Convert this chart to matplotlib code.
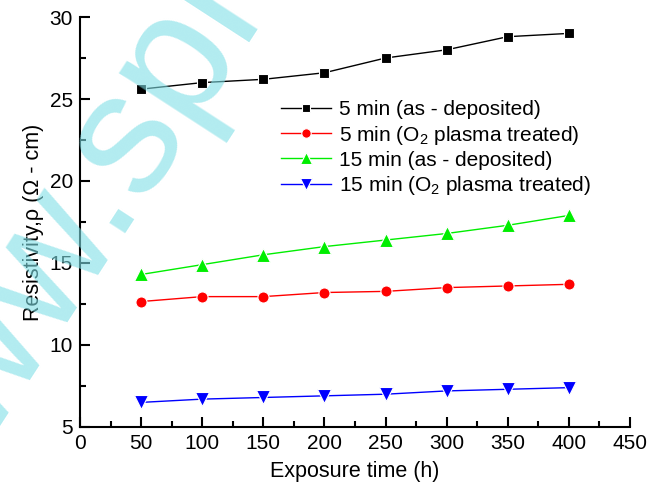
import matplotlib
matplotlib.use("Agg")
import matplotlib.pyplot as plt
from matplotlib.ticker import MultipleLocator

plt.rcParams['font.family'] = ['Liberation Sans', 'DejaVu Sans']
plt.rcParams['mathtext.fontset'] = 'custom'
plt.rcParams['mathtext.rm'] = 'Liberation Sans'
plt.rcParams['mathtext.it'] = 'Liberation Sans'

exposure = [50, 100, 150, 200, 250, 300, 350, 400]
s5_dep = [25.6, 26.0, 26.2, 26.6, 27.5, 28.0, 28.8, 29.0]
s5_o2 = [12.65, 12.95, 12.95, 13.2, 13.27, 13.5, 13.6, 13.7]
s15_dep = [14.3, 14.9, 15.5, 16.0, 16.4, 16.8, 17.3, 17.9]
s15_o2 = [6.5, 6.7, 6.8, 6.9, 7.0, 7.2, 7.3, 7.4]
labels = ["5 min (as - deposited)", "5 min (O$_2$ plasma treated)",
          "15 min (as - deposited)", "15 min (O$_2$ plasma treated)"]

fig = plt.figure(figsize=(6.49, 4.88), dpi=100)
ax = fig.add_axes([80/649, 1-427/488, 550/649, 410/488])

# watermark
fig.text(0.09, 0.48, "www.spr", color='#7fdfe6', alpha=0.6, fontsize=125,
         rotation=57, ha='center', va='center', zorder=0)

common = dict(lw=1, mec='white', mew=0.8)
ax.plot(exposure, s5_dep, color='black', marker='s', ms=7.5, label=labels[0], **common)
ax.plot(exposure, s5_o2, color='red', marker='o', ms=8, label=labels[1], **common)
ax.plot(exposure, s15_dep, color='#00ee00', marker='^', ms=10, label=labels[2], **common)
ax.plot(exposure, s15_o2, color='blue', marker='v', ms=10, label=labels[3], **common)

ax.set_xlim(0, 450)
ax.set_ylim(5, 30)
ax.xaxis.set_major_locator(MultipleLocator(50))
ax.xaxis.set_minor_locator(MultipleLocator(25))
ax.yaxis.set_major_locator(MultipleLocator(5))
ax.yaxis.set_minor_locator(MultipleLocator(2.5))
ax.spines['top'].set_visible(False)
ax.spines['right'].set_visible(False)
ax.spines['left'].set_linewidth(1.5)
ax.spines['bottom'].set_linewidth(1.5)
ax.tick_params(which='major', direction='in', length=7, width=1.5, labelsize=15, pad=5)
ax.tick_params(which='minor', direction='in', length=4, width=1.5)
ax.patch.set_alpha(0)

ax.set_xlabel("Exposure time (h)", fontsize=15.5, labelpad=6)
ax.set_ylabel("Resistivity,ρ (Ω - cm)", fontsize=15.5, labelpad=4)

leg = ax.legend(loc='upper left', bbox_to_anchor=(271/649, 1-90/488),
                bbox_transform=fig.transFigure, frameon=False, fontsize=15,
                handlelength=2.4, handletextpad=0.35, labelspacing=0.2,
                borderpad=0, markerscale=0.85)

fig.savefig("out.png", dpi=100)
